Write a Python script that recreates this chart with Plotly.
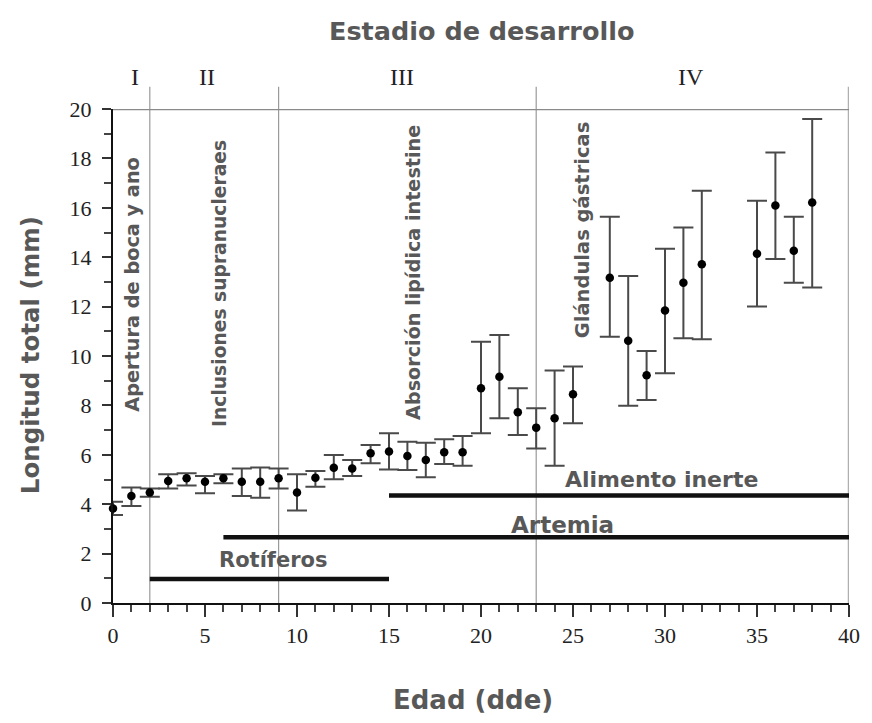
import plotly.graph_objects as go

# ---- data ----
edad = [0, 1, 2, 3, 4, 5, 6, 7, 8, 9, 10, 11, 12, 13, 14, 15, 16, 17, 18, 19,
        20, 21, 22, 23, 24, 25, 27, 28, 29, 30, 31, 32, 35, 36, 37, 38]
longitud = [3.83, 4.33, 4.47, 4.94, 5.05, 4.91, 5.05, 4.91, 4.91, 5.05, 4.47, 5.07,
            5.48, 5.45, 6.06, 6.13, 5.95, 5.79, 6.10, 6.10, 8.69, 9.16, 7.72, 7.10,
            7.48, 8.45, 13.17, 10.62, 9.22, 11.84, 12.97, 13.71, 14.14, 16.09, 14.26, 16.21]
sup = [4.10, 4.68, 4.64, 5.21, 5.25, 5.14, 5.21, 5.45, 5.49, 5.45, 5.21, 5.34,
       5.99, 5.79, 6.40, 6.87, 6.53, 6.49, 6.63, 6.76, 10.58, 10.85, 8.69, 7.88,
       9.41, 9.57, 15.64, 13.24, 10.20, 14.34, 15.20, 16.69, 16.29, 18.24, 15.64, 19.60]
inf = [3.56, 3.93, 4.30, 4.64, 4.76, 4.44, 4.85, 4.33, 4.26, 4.64, 3.74, 4.71,
       5.01, 5.14, 5.66, 5.40, 5.38, 5.09, 5.63, 5.56, 6.87, 7.48, 6.80, 6.26,
       5.56, 7.28, 10.78, 7.99, 8.22, 9.30, 10.72, 10.68, 12.00, 13.93, 12.97, 12.77]

alimentos = ["Rotíferos", "Artemia", "Alimento inerte"]
alim_inicio = [2, 6, 15]
alim_fin = [15, 40, 40]
alim_nivel = [0.97, 2.66, 4.35]
alim_etq_x = [8.7, 24.45, 29.8]
alim_etq_y = [1.74, 3.16, 4.99]

estadios = ["I", "II", "III", "IV"]
estadio_x = [1.2, 5.1, 15.7, 31.4]
limites = [2, 9, 23]

eventos = ["Apertura de boca y ano", "Inclusiones supranucleraes",
           "Absorción lipídica intestine", "Glándulas gástricas"]
evento_x = [1.05, 5.75, 16.3, 25.5]
evento_y = [12.9, 12.95, 13.4, 15.1]

x_ticks = [0, 5, 10, 15, 20, 25, 30, 35, 40]
y_ticks = [0, 2, 4, 6, 8, 10, 12, 14, 16, 18, 20]

BOLD = "DejaVu Sans"
GRAY = "#585858"
SERIF = "Liberation Serif"

# page offset of the html body (8 px) is compensated in the size/margins
OFF = 8
PL, PT, PW, PH = 113, 109, 738, 494   # plot area in page pixels

fig = go.Figure()

# feeding bars
for n, a, b, lv in zip(alimentos, alim_inicio, alim_fin, alim_nivel):
    fig.add_trace(go.Scatter(x=[a, b], y=[lv, lv], mode="lines",
                             line=dict(color="#111", width=4.5),
                             showlegend=False, hoverinfo="skip", cliponaxis=False))

# data with error bars
fig.add_trace(go.Scatter(
    x=edad, y=longitud, mode="markers",
    marker=dict(color="black", size=8.5),
    error_y=dict(type="data", symmetric=False,
                 array=[s - m for s, m in zip(sup, longitud)],
                 arrayminus=[m - i for m, i in zip(longitud, inf)],
                 color="#4a4a4a", thickness=2, width=10),
    showlegend=False, cliponaxis=False))

shapes = []
for lx in limites:
    shapes.append(dict(type="line", xref="x", yref="paper", x0=lx, x1=lx, y0=0, y1=1.045,
                       line=dict(color="#9a9a9a", width=1.2), layer="below"))
shapes.append(dict(type="line", xref="x", yref="paper", x0=40, x1=40, y0=0, y1=1.045,
                   line=dict(color="#b0b0b0", width=2.5), layer="below"))
shapes.append(dict(type="line", xref="x", yref="y", x0=0, x1=40, y0=20, y1=20,
                   line=dict(color="#8a8a8a", width=2.5), layer="below"))


def px_x(p):
    return (p - PL) / PW


def px_y(p):
    return (PT + PH - p) / PH


ann = []
for n, xx, yy, fs in zip(alimentos, alim_etq_x, alim_etq_y, [21, 23, 22]):
    ann.append(dict(x=xx, y=yy, xref="x", yref="y", text=n, showarrow=False,
                    font=dict(family=BOLD, size=fs, color=GRAY, weight="bold")))
for n, xx in zip(estadios, estadio_x):
    ann.append(dict(x=xx, xref="x", y=px_y(77), yref="paper", text=n, showarrow=False,
                    xanchor="center", yanchor="middle",
                    font=dict(family=SERIF, size=24, color="#222")))
for n, xx, yy, fs in zip(eventos, evento_x, evento_y, [19.3, 18.7, 19.2, 19.5]):
    ann.append(dict(x=xx, y=yy, xref="x", yref="y", text=n, showarrow=False, textangle=-90,
                    font=dict(family=BOLD, size=fs, color=GRAY, weight="bold")))
ann.append(dict(x=px_x(483), y=px_y(31), xref="paper", yref="paper",
                xanchor="center", yanchor="middle",
                text="Estadio de desarrollo", showarrow=False,
                font=dict(family=BOLD, size=25.5, color=GRAY, weight="bold")))
ann.append(dict(x=px_x(474), y=px_y(700), xref="paper", yref="paper",
                xanchor="center", yanchor="middle",
                text="Edad (dde)", showarrow=False,
                font=dict(family=BOLD, size=26, color=GRAY, weight="bold")))
ann.append(dict(x=px_x(30), y=px_y(355), xref="paper", yref="paper",
                xanchor="center", yanchor="middle",
                text="Longitud total (mm)", showarrow=False, textangle=-90,
                font=dict(family=BOLD, size=24.5, color=GRAY, weight="bold")))

W, H = 872 - OFF, 723 - OFF
fig.update_layout(
    width=W, height=H,
    margin=dict(l=PL - OFF, r=W - (PL - OFF) - PW, t=PT - OFF, b=H - (PT - OFF) - PH),
    paper_bgcolor="white", plot_bgcolor="white",
    shapes=shapes, annotations=ann,
    xaxis=dict(range=[0, 40], tickvals=x_ticks, showgrid=False, zeroline=False,
               showline=True, linecolor="#111", linewidth=2,
               ticks="outside", ticklen=12, tickwidth=2, tickcolor="#333",
               minor=dict(dtick=1, ticklen=7, tickwidth=1.5, tickcolor="#444", ticks="outside"),
               tickfont=dict(family=SERIF, size=22, color="#222"), ticklabelstandoff=0),
    yaxis=dict(range=[0, 20], tickvals=y_ticks, showgrid=False, zeroline=False,
               showline=True, linecolor="#111", linewidth=2,
               ticks="outside", ticklen=9, tickwidth=2, tickcolor="#333",
               minor=dict(dtick=1, ticklen=7, tickwidth=1.5, tickcolor="#444", ticks="outside"),
               tickfont=dict(family=SERIF, size=22, color="#222"), ticklabelstandoff=6),
)

fig.write_html("out.html")
